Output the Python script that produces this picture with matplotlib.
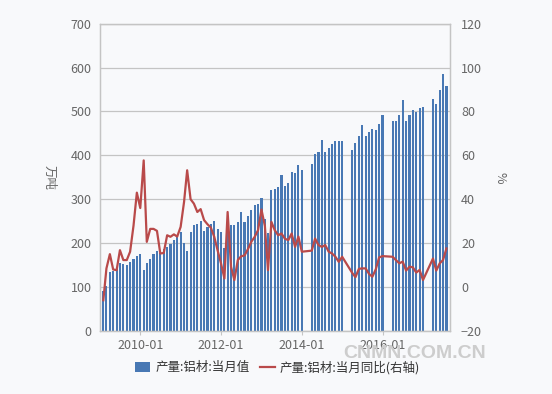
import numpy as np
import pandas as pd
import matplotlib
matplotlib.use("Agg")
import matplotlib.pyplot as plt

plt.rcParams['font.family'] = ['Noto Sans CJK SC', 'DejaVu Sans']

# monthly data, 2009-01 .. 2017-07 (nan = month not reported)
nan = np.nan
months = pd.date_range("2009-01-31", "2017-07-31", freq="ME")

output = [
    92, 103, 135, 136, 142, 155, 152, 151, 157, 165, 170, 175,      # 2009
    139, 154, 163, 175, 182, 178, 186, 192, 197, 208, 218, 226,     # 2010
    200, 183, 226, 241, 243, 250, 228, 237, 243, 250, 233, 225,     # 2011
    188, 240, 241, 241, 248, 271, 248, 261, 275, 286, 290, 302,     # 2012
    255, 222, 320, 323, 327, 355, 330, 337, 361, 359, 377, 366,     # 2013
    nan, nan, 381, 404, 407, 436, 407, 417, 425, 432, 432, 432,     # 2014
    nan, nan, 413, 427, 443, 470, 443, 454, 461, 457, 472, 493,     # 2015
    nan, nan, 478, 478, 491, 525, 478, 493, 504, 499, 508, 511,     # 2016
    nan, nan, 529, 516, 548, 586, 557,                              # 2017
]

yoy = [
    -6, 8.5, 15, 8, 7.7, 16.8, 12.3, 12.3, 16.1, 28, 43, 36,
    57.7, 20.6, 26.5, 26.5, 25.6, 15.3, 15.5, 23.6, 22.9, 24, 23, 27.4,
    38.8, 53.2, 40, 38, 34.2, 35.5, 30.5, 28.6, 27.1, 22.9, 16.8, 10.8,
    3.9, 34.2, 9.2, 3.2, 12.3, 14, 14.4, 17.3, 20.6, 22.9, 25.9, 35.3,
    27.8, 7.7, 29.7, 25.9, 23.6, 24.4, 22, 21.4, 24.4, 18.3, 23, 16.1,
    nan, nan, 16.6, 22.1, 19.1, 18.3, 19.1, 16.1, 15.3, 13.8, 11.5, 13.8,
    nan, nan, 6.5, 4.5, 8.3, 8.5, 8.5, 6, 4.7, 8.1, 13.5, 14.1,
    nan, nan, 13.8, 12.3, 10.8, 11.6, 7.5, 9.3, 9, 6.6, 7.8, 3.2,
    nan, nan, 13, 7.5, 10.8, 12.3, 17.6,
]

xtick_labels = ["2010-01", "2012-01", "2014-01", "2016-01"]

df = pd.DataFrame({"output": output, "yoy": yoy}, index=months)

bg = "#f8f9fb"
grey = "#c4c4c4"
txt = "#666666"
blue = "#4878b4"
red = "#b94a4a"

fig = plt.figure(figsize=(5.52, 3.94), dpi=100, facecolor=bg)
ax = fig.add_axes([0.181, 0.160, 0.634, 0.780], facecolor=bg)
ax2 = ax.twinx()

ax.bar(df.index, df["output"], width=19, color=blue, zorder=2, label="产量:铝材:当月值")
line = df["yoy"].dropna()
ax2.plot(line.index, line.values, color=red, lw=1.6, zorder=3, label="产量:铝材:当月同比(右轴)")

ax.set_ylim(0, 700)
ax.set_yticks(range(0, 701, 100))
ax2.set_ylim(-20, 120)
ax2.set_yticks(range(-20, 121, 20))
ax.set_xlim(pd.Timestamp("2008-12-31"), pd.Timestamp("2017-08-31"))
ax.set_xticks([pd.Timestamp(s + "-01") for s in xtick_labels])
ax.set_xticklabels(xtick_labels)

ax.grid(axis="y", color=grey, lw=0.9, zorder=0)
ax.set_axisbelow(True)
for a in (ax, ax2):
    for s in a.spines.values():
        s.set_color(grey)
        s.set_linewidth(0.9)
ax.tick_params(axis="y", length=0, labelsize=9, labelcolor=txt, pad=6)
ax2.tick_params(axis="y", length=0, labelsize=9, labelcolor=txt, pad=8)
ax.tick_params(axis="x", length=3, color=grey, labelsize=9, labelcolor=txt, pad=3)

ax.set_ylabel("万吨", rotation=270, color=txt, fontsize=9, labelpad=20)
ax2.set_ylabel("%", rotation=270, color=txt, fontsize=9, labelpad=18)

h1, l1 = ax.get_legend_handles_labels()
h2, l2 = ax2.get_legend_handles_labels()
fig.legend(h1 + h2, l1 + l2, loc="center", bbox_to_anchor=(0.503, 0.067), ncol=2,
           frameon=False, fontsize=9, labelcolor="#333333", handlelength=1.2,
           handleheight=0.9, columnspacing=0.8, handletextpad=0.4)

fig.text(0.752, 0.102, "CNMN.COM.CN", fontsize=14, fontweight="bold",
         family="Liberation Sans", color="#cdcdcd", ha="center", va="center", zorder=5)

fig.savefig("out.png", dpi=100, facecolor=bg)
